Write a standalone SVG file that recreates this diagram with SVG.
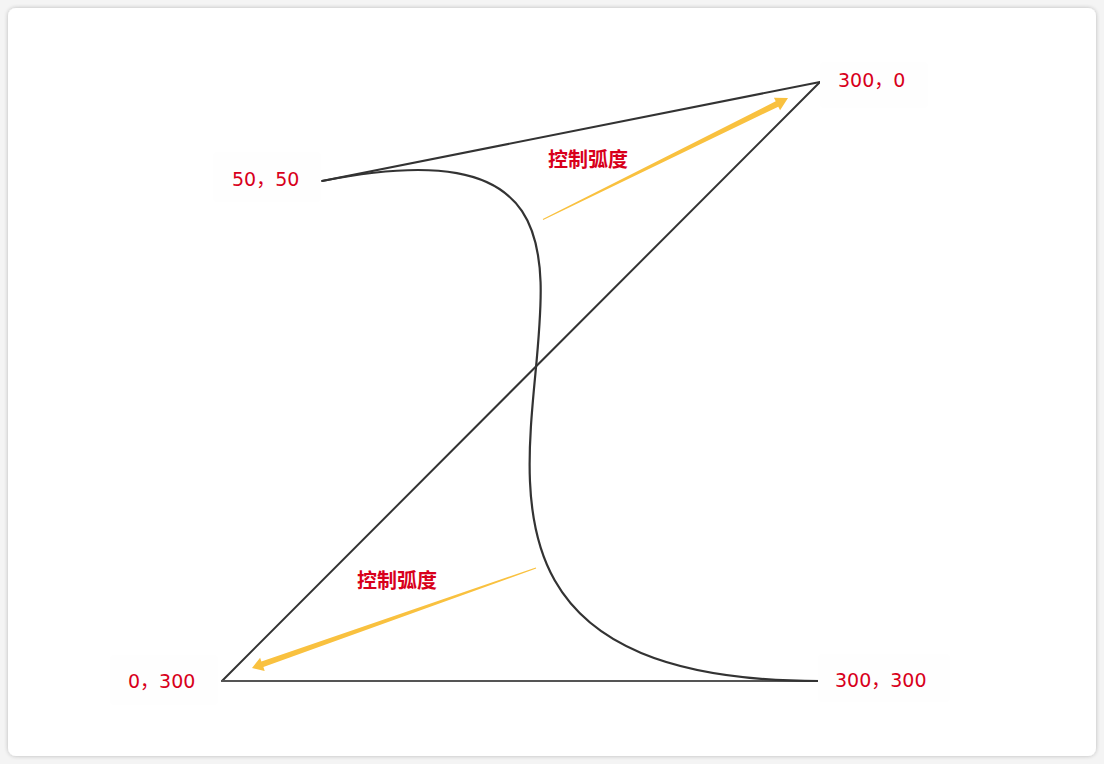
<svg xmlns="http://www.w3.org/2000/svg" width="1104" height="764" viewBox="0 0 1104 764">
  <defs>
    <filter id="shadow" x="-5%" y="-5%" width="110%" height="110%">
      <feGaussianBlur in="SourceAlpha" stdDeviation="2"/>
      <feOffset dx="0" dy="0"/>
      <feComponentTransfer><feFuncA type="linear" slope="0.25"/></feComponentTransfer>
      <feMerge><feMergeNode/><feMergeNode in="SourceGraphic"/></feMerge>
    </filter>
  </defs>
  <style>
    .line { fill: none; stroke: #333; stroke-width: 2; stroke-linecap: round; }
    .curve { fill: none; stroke: #333; stroke-width: 2.2; }
    .coord { font-family: "DejaVu Sans", "Noto Sans CJK SC", sans-serif; font-size: 19px; fill: #d8001b; }
    .note { font-family: "Noto Sans CJK SC", sans-serif; font-size: 20px; font-weight: bold; fill: #d8001b; }
    .bg { fill: #fefefe; }
    .arrow { fill: #f9c13f; }
  </style>
  <rect width="1104" height="764" fill="#f4f4f4"/>
  <rect x="8" y="8" width="1088" height="748" rx="8" fill="#ffffff" filter="url(#shadow)"/>

  <g id="connectors">
    <line class="line" x1="322" y1="181" x2="820" y2="82"/>
    <line class="line" x1="820" y1="82" x2="222" y2="681"/>
    <line class="line" x1="222" y1="681" x2="820" y2="681" style="stroke:#555"/>
    <path class="curve" d="M322,181 C820,82 222,681 820,681"/>
  </g>

  <g id="arrow-top">
    <polygon class="arrow" points="543.2,219.9 778.3,106.7 780.1,110.3 788,98 773.9,97.7 775.7,101.3 542.8,219.1"/>
  </g>
  <g id="arrow-bottom">
    <polygon class="arrow" points="536.2,568.5 263.4,667.1 264.7,670.9 252,668 260.1,657.7 261.4,661.5 535.8,567.5"/>
  </g>

  <g id="label-50-50">
    <rect class="bg" x="213" y="152" width="108" height="50" rx="4"/>
    <text class="coord" x="232" y="186">50，50</text>
  </g>
  <g id="label-300-0">
    <rect class="bg" x="820" y="62" width="108" height="46" rx="4"/>
    <text class="coord" x="838" y="87">300，0</text>
  </g>
  <g id="label-0-300">
    <rect class="bg" x="110" y="655" width="108" height="50" rx="4"/>
    <text class="coord" x="128" y="688">0，300</text>
  </g>
  <g id="label-300-300">
    <rect class="bg" x="818" y="654" width="132" height="48" rx="4"/>
    <text class="coord" x="835" y="687">300，300</text>
  </g>
  <g id="label-control-top">
    <text class="note" x="548" y="167">控制弧度</text>
  </g>
  <g id="label-control-bottom">
    <text class="note" x="357" y="588">控制弧度</text>
  </g>
</svg>
